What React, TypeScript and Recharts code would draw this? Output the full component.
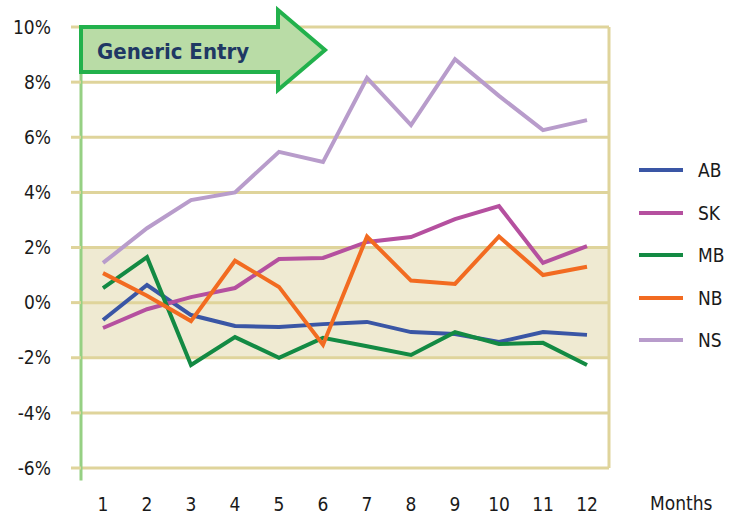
import { LineChart, Line, XAxis, YAxis, ReferenceArea, ReferenceLine } from 'recharts'

const months = [1, 2, 3, 4, 5, 6, 7, 8, 9, 10, 11, 12]
const ab = [-0.63, 0.64, -0.45, -0.85, -0.88, -0.78, -0.7, -1.07, -1.14, -1.43, -1.07, -1.17]
const sk = [-0.92, -0.24, 0.2, 0.53, 1.58, 1.62, 2.2, 2.38, 3.03, 3.5, 1.44, 2.05]
const mb = [0.53, 1.65, -2.26, -1.25, -2.0, -1.28, -1.58, -1.9, -1.07, -1.5, -1.46, -2.26]
const nb = [1.07, 0.25, -0.67, 1.52, 0.57, -1.53, 2.4, 0.8, 0.68, 2.4, 1.0, 1.3]
const ns = [1.44, 2.7, 3.72, 4.0, 5.47, 5.1, 8.15, 6.44, 8.83, 7.5, 6.26, 6.62]
const yTicks = [-6, -4, -2, 0, 2, 4, 6, 8, 10]
const bandTicks = [1.5, 2.5, 3.5, 4.5, 5.5, 6.5, 7.5, 8.5, 9.5, 10.5, 11.5, 12.5]

const series = [
  { key: 'AB', values: ab, color: '#3a56a5' },
  { key: 'SK', values: sk, color: '#b5509f' },
  { key: 'MB', values: mb, color: '#138a43' },
  { key: 'NB', values: nb, color: '#f26b21' },
  { key: 'NS', values: ns, color: '#b89ccb' },
]

const data = months.map((m, i) => {
  const row: Record<string, number> = { month: m }
  series.forEach(s => { row[s.key] = s.values[i] })
  return row
})

const font = "'Liberation Sans Narrow', 'DejaVu Sans Condensed', sans-serif"
const grid = '#dfd49b'
const band = '#efead2'
const ink = '#1a1a1a'

export default function App() {
  return (
    <div style={{ position: 'absolute', left: 0, top: 0, width: 734, height: 514, background: '#fff' }}>
      <LineChart width={734} height={514} data={data} margin={{ top: 27, right: 125, left: 0, bottom: 0 }}>
        <XAxis xAxisId="b" type="number" dataKey="month" domain={[0.5, 12.5]} ticks={bandTicks}
          height={0} axisLine={false} tickSize={10} tickLine={{ stroke: grid, strokeWidth: 3 }} tick={() => <g />} />
        <XAxis type="number" dataKey="month" domain={[0.5, 12.5]} ticks={months} height={46} interval={0}
          axisLine={false} tickLine={false} tickSize={0} tickMargin={30}
          tick={{ fill: ink, fontSize: 19, fontFamily: font }}
          label={{ value: 'Months', position: 'right', offset: 41, dy: 12, fill: ink, fontSize: 19, fontFamily: font }} />
        <YAxis type="number" domain={[-6, 10]} ticks={yTicks} width={81} axisLine={false} interval={0}
          tickSize={10} tickMargin={20} tickLine={{ stroke: grid, strokeWidth: 3 }}
          tickFormatter={(v: number) => `${v}%`}
          tick={{ fill: ink, fontSize: 19, fontFamily: font }} />
        <ReferenceArea y1={-2} y2={2} fill={band} fillOpacity={1} stroke="none" />
        {yTicks.map(t => (
          <ReferenceLine key={t} y={t} stroke={grid} strokeWidth={3} />
        ))}
        <ReferenceLine segment={[{ x: 12.5, y: 10 }, { x: 12.5, y: -6 }]} stroke={grid} strokeWidth={3} ifOverflow="visible" />
        <ReferenceLine segment={[{ x: 0.5, y: 10.07 }, { x: 0.5, y: -6.45 }]} stroke="#96d083" strokeWidth={3} ifOverflow="visible" />
        {series.map(s => (
          <Line key={s.key} dataKey={s.key} stroke={s.color} strokeWidth={4} dot={false}
            activeDot={false} isAnimationActive={false} />
        ))}
      </LineChart>
      <div style={{ position: 'absolute', left: 639, top: 149, fontFamily: font }}>
        {series.map(s => (
          <div key={s.key} style={{ display: 'flex', alignItems: 'center', height: 42.5 }}>
            <div style={{ width: 44, height: 4, background: s.color }} />
            <span style={{ marginLeft: 15, fontSize: 19, color: ink }}>{s.key}</span>
          </div>
        ))}
      </div>
      <svg width={734} height={514} style={{ position: 'absolute', left: 0, top: 0, pointerEvents: 'none' }}>
        <polygon points="81,27 278,27 278,10 325,50 278,90 278,72 81,72"
          fill="#b9dca6" stroke="#22b14c" strokeWidth={4} strokeLinejoin="miter" />
        <text x={97} y={59} fill="#1f3864" fontSize={22} fontWeight="bold" fontFamily={font}>Generic Entry</text>
      </svg>
    </div>
  )
}
